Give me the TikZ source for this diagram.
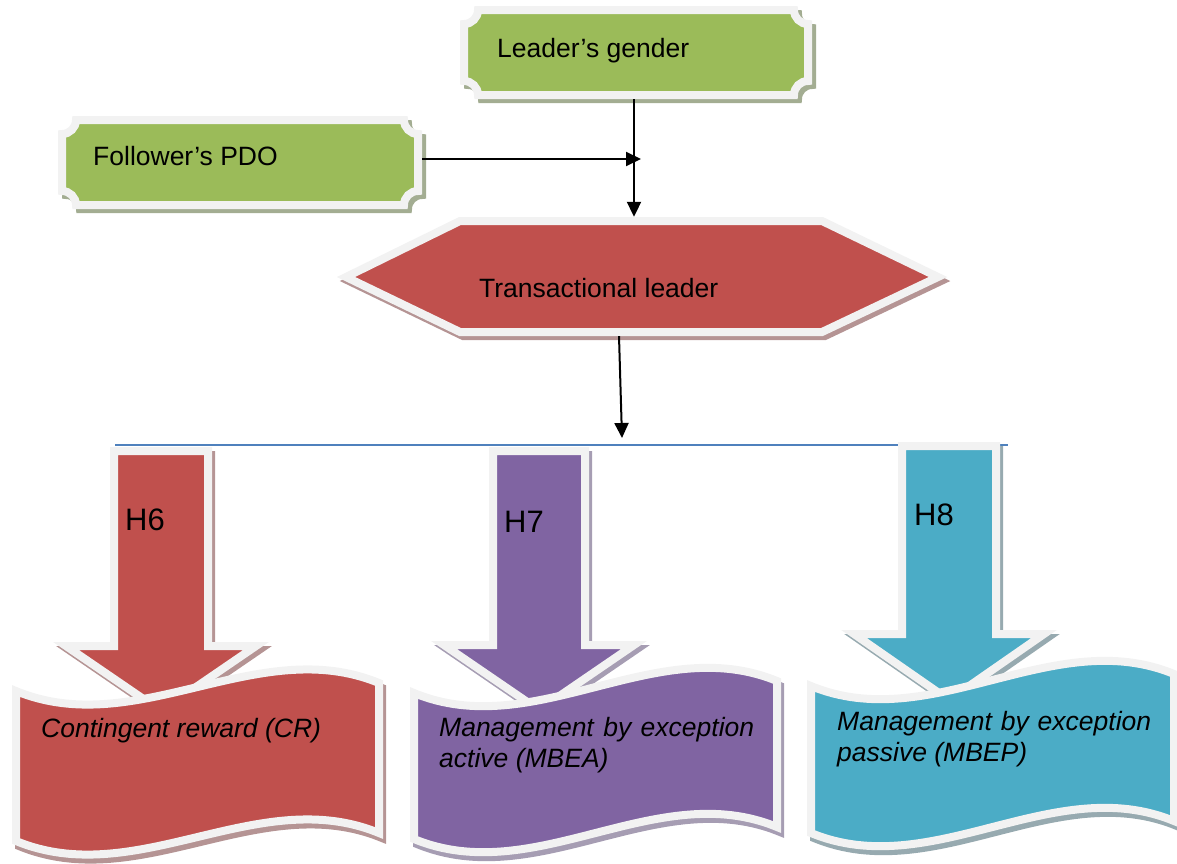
\documentclass[tikz,border=0pt]{standalone}
\usepackage{fontspec}
\setmainfont{Liberation Sans}
\usetikzlibrary{arrows.meta}
\definecolor{grn}{HTML}{9BBB59}
\definecolor{rd}{HTML}{C0504D}
\definecolor{pur}{HTML}{8064A2}
\definecolor{cyn}{HTML}{4BACC6}
\definecolor{rim}{HTML}{F2F2F2}
\definecolor{grnsh}{HTML}{A3AD92}
\definecolor{rdsh}{HTML}{B59494}
\definecolor{pursh}{HTML}{A69DB3}
\definecolor{cynsh}{HTML}{97AAB0}
\definecolor{lineblue}{HTML}{4F81BD}
\newcommand\lblfont{\fontsize{26.5pt}{30.5pt}\selectfont}
\newcommand\hypfont{\fontsize{31pt}{36pt}\selectfont}
% plaque: x0 y0 x1 y1 r
\newcommand\plaquepath[5]{({#1+#5},#2) -- ({#3-#5},#2) .. controls ({#3-#5},{#2+0.552*#5}) and ({#3-0.552*#5},{#2+#5}) .. (#3,{#2+#5}) -- (#3,{#4-#5}) .. controls ({#3-0.552*#5},{#4-#5}) and ({#3-#5},{#4-0.552*#5}) .. ({#3-#5},#4) -- ({#1+#5},#4) .. controls ({#1+#5},{#4-0.552*#5}) and ({#1+0.552*#5},{#4-#5}) .. (#1,{#4-#5}) -- (#1,{#2+#5}) .. controls ({#1+0.552*#5},{#2+#5}) and ({#1+#5},{#2+0.552*#5}) .. ({#1+#5},#2) -- cycle}
% wave: L R TL TR H
\newcommand\wavepath[5]{(#1,#3) .. controls ({#1+121},{#3+50}) and ({#2-121},{#4-50}) .. (#2,#4) -- (#2,{#4+#5}) .. controls ({#2-121},{#4+#5-50}) and ({#1+121},{#3+#5+50}) .. (#1,{#3+#5}) -- cycle}
% block arrow: cx s hw ty hy tip
\newcommand\blockarrowpath[6]{({#1-#2},#4) -- ({#1+#2},#4) -- ({#1+#2},#5) -- ({#1+#3},#5) -- (#1,#6) -- ({#1-#3},#5) -- ({#1-#2},#5) -- cycle}
\tikzset{
  shad/.style={fill=#1, draw=#1, line width=8pt},
  body/.style={fill=#1, draw=rim, line width=8pt},
  frame/.style={inner sep=0pt, draw=none},
  lbl/.style={inner sep=0pt, font=\lblfont, anchor=base west},
  ilbl/.style={inner sep=0pt, font=\lblfont\itshape, anchor=base west, align=left},
  hyp/.style={inner sep=0pt, font=\hypfont, anchor=base west},
  conn/.style={draw=black, line width=2pt, -{Triangle[length=15pt,width=14pt]}},
  bus/.style={draw=lineblue, line width=1.5pt}
}
\begin{document}
\begin{tikzpicture}[x=1pt,y=-1pt]
\useasboundingbox (0,0) rectangle (1177,863);
% frames (for connectors)
\node[frame, minimum width=350pt, minimum height=93pt] (lg) at (637,52.5) {};
\node[frame, minimum width=364pt, minimum height=92pt] (fp) at (240,162) {};
\node[frame, minimum width=612pt, minimum height=119pt] (tl) at (643,276.5) {};
% Leader's gender
\draw[shad=grnsh, shift={(4,4)}] \plaquepath{464}{10}{808}{95}{14};
\draw[body=grn] \plaquepath{464}{10}{808}{95}{14};
% Follower's PDO
\draw[shad=grnsh, shift={(4,4)}] \plaquepath{62}{120}{418}{205}{14};
\draw[body=grn] \plaquepath{62}{120}{418}{205}{14};
% Transactional leader hexagon
\draw[shad=rdsh, shift={(3,4)}] (346,277) -- (460,221) -- (822,221) -- (938,277) -- (822,332) -- (460,332) -- cycle;
\draw[body=rd] (346,277) -- (460,221) -- (822,221) -- (938,277) -- (822,332) -- (460,332) -- cycle;
\node[lbl] (lgt) at (497,57) {Leader’s gender};
\node[lbl] (fpt) at (93,165) {Follower’s PDO};
\node[lbl] (tlt) at (479,297) {Transactional leader};
% connectors
\coordinate (jn) at (641,159);
\draw[conn] ([xshift=-3pt]lg.south) -- ([xshift=-3pt]lg.south |- tl.north);
\draw[conn] ([yshift=3pt]fp.east) -- (jn);
\coordinate (busin) at (622,438);
\draw[conn] ([xshift=-24pt]tl.south) -- (busin);
% bus line
\coordinate (busl) at (115,445);
\coordinate (busr) at (1008,445);
\draw[bus] (busl) -- (busr);
% panel 1
\draw[shad=rdsh, shift={(3,4)}] \blockarrowpath{161}{47}{95}{451}{646}{711};
\draw[body=rd] \blockarrowpath{161}{47}{95}{451}{646}{711};
\draw[shad=rdsh, shift={(3,5)}] \wavepath{16}{379}{691}{683}{150};
\draw[body=rd] \wavepath{16}{379}{691}{683}{150};
% panel 2
\draw[shad=pursh, shift={(3,4)}] \blockarrowpath{539}{46}{95}{451}{645}{710};
\draw[body=pur] \blockarrowpath{539}{46}{95}{451}{645}{710};
\draw[shad=pursh, shift={(3,5)}] \wavepath{414}{777}{693}{681}{146};
\draw[body=pur] \wavepath{414}{777}{693}{681}{146};
% panel 3
\draw[shad=cynsh, shift={(3,4)}] \blockarrowpath{949}{47}{95}{446}{634}{700};
\draw[body=cyn] \blockarrowpath{949}{47}{95}{446}{634}{700};
\draw[shad=cynsh, shift={(3,5)}] \wavepath{811}{1174}{686}{674}{147};
\draw[body=cyn] \wavepath{811}{1174}{686}{674}{147};
% labels
\node[hyp] (h6) at (125,530) {H6};
\node[hyp] (h7) at (504,532) {H7};
\node[hyp] (h8) at (914,525) {H8};
\node[ilbl] (cr) at (41,737) {Contingent reward (CR)};
\node[ilbl] (mbea) at (439,767) {\makebox[315pt][s]{Management by exception}\\active (MBEA)};
\node[ilbl] (mbep) at (837,761) {\makebox[314pt][s]{Management by exception}\\passive (MBEP)};
\end{tikzpicture}
\end{document}
